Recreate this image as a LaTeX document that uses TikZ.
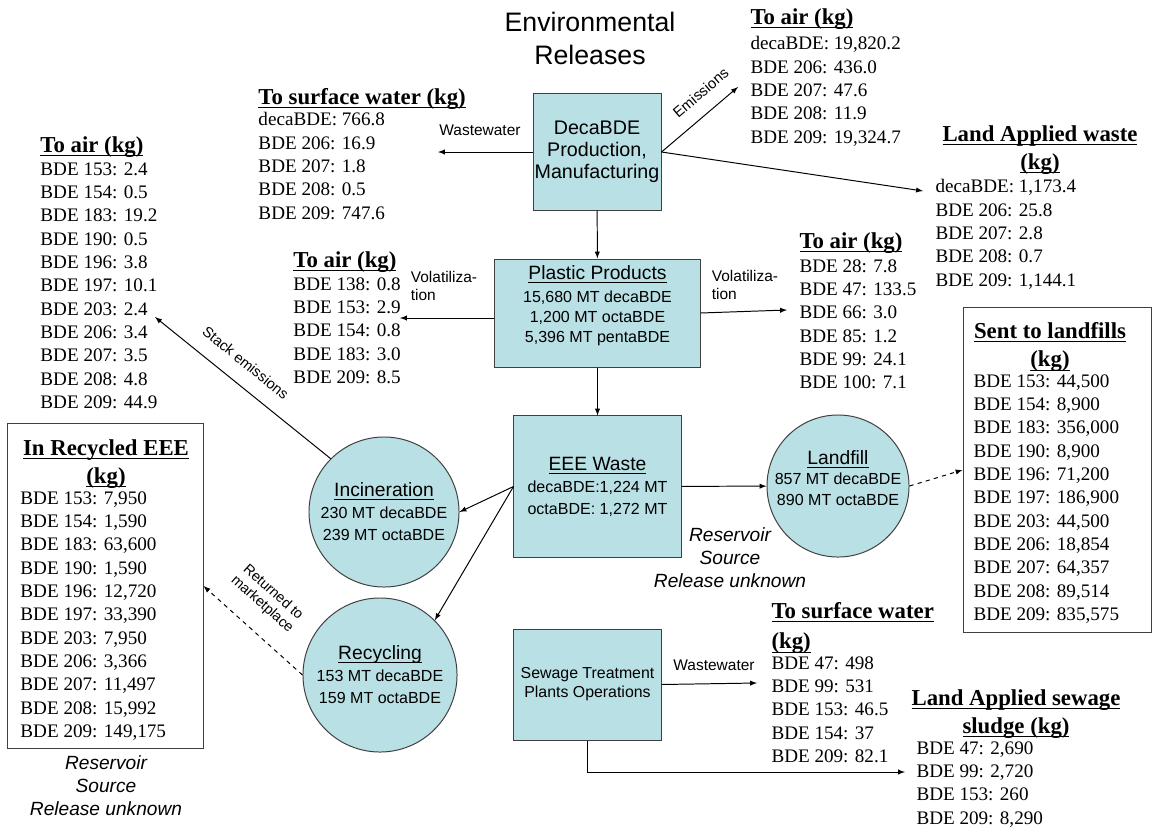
\documentclass[tikz,border=0pt]{standalone}
\usepackage{amsmath}
\usepackage{fontspec}
\setmainfont{Liberation Serif}
\setsansfont{Liberation Sans}
\usepackage{xcolor}
\definecolor{tank}{RGB}{185,224,228}
\newcommand{\uln}[1]{\underline{\smash[b]{#1}}}

\begin{document}
\begin{tikzpicture}[x=0.025cm, y=-0.025cm, line width=0.7pt,
  unit/.style={draw=black!75, fill=tank, inner sep=0pt, align=center, font=\sffamily\fontsize{11.4}{15.6}\selectfont},
  pool/.style={unit, circle},
  lst/.style={anchor=north west, inner sep=0pt, align=left, font=\fontsize{13.6}{16.6}\selectfont},
  hd/.style={inner sep=0pt, font=\bfseries\fontsize{16.2}{20}\selectfont},
  tag/.style={inner sep=1pt, font=\sffamily\fontsize{11}{12.8}\selectfont},
  note/.style={align=center, font=\sffamily\itshape\fontsize{13.6}{16.4}\selectfont}]
  \useasboundingbox (0,0) rectangle (1154,829);

  \node[font=\sffamily\fontsize{19}{23.5}\selectfont, align=center] (title) at (590,38) {Environmental\\Releases};

  % processes
  \node[unit, font=\sffamily\fontsize{14}{15.6}\selectfont, minimum width=3.2cm, minimum height=2.9cm] (deca) at (597,152) {DecaBDE\\Production,\\Manufacturing};
  \node[unit, minimum width=5.125cm, minimum height=2.7cm] (plastic) at (597.5,313) {};
  \node[anchor=north, inner sep=0pt, align=center, font=\sffamily\fontsize{11.4}{14.2}\selectfont] (plastictxt) at (597.5,265)
    {{\fontsize{13.7}{15}\selectfont\uln{Plastic Products}}\\[2pt]15,680 MT decaBDE\\1,200 MT octaBDE\\5,396 MT pentaBDE};
  \node[unit, minimum width=4.175cm, minimum height=3.525cm] (eee) at (597.5,486.5)
    {{\fontsize{13.7}{15}\selectfont\uln{EEE Waste}}\\decaBDE:1,224 MT\\octaBDE: 1,272 MT};
  \node[pool, minimum size=3.75cm] (incin) at (384,512)
    {{\fontsize{13.7}{15}\selectfont\uln{Incineration}}\\230 MT decaBDE\\239 MT octaBDE};
  \node[pool, minimum size=3.85cm] (recyc) at (380,675)
    {{\fontsize{13.7}{15}\selectfont\uln{Recycling}}\\153 MT decaBDE\\159 MT octaBDE};
  \node[pool, minimum size=3.55cm] (landfill) at (838,486) {};
  \node[inner sep=0pt, align=center, font=\sffamily\fontsize{11.4}{14.6}\selectfont] (landfilltxt) at (838,478)
    {{\fontsize{13.7}{15}\selectfont\uln{Landfill}}\\857 MT decaBDE\\890 MT octaBDE};
  \node[unit, font=\sffamily\fontsize{11.3}{13.5}\selectfont, minimum width=3.675cm, minimum height=2.775cm] (sewage) at (587.5,684.5)
    {Sewage Treatment\\Plants Operations};

  % framed lists
  \node[draw=black!75, inner sep=0pt, minimum width=4.875cm, minimum height=8.1cm] (recycled) at (105.5,586) {};
  \node[draw=black!75, inner sep=0pt, minimum width=4.7cm, minimum height=8.1cm] (sent) at (1057,470) {};

  % releases
  \node[hd, anchor=base west] (airtophd) at (750,24) {\uln{To air (kg)}};
  \node[lst] (airtop) at (750,36) {decaBDE: 19,820.2\\BDE 206: 436.0\\BDE 207: 47.6\\BDE 208: 11.9\\BDE 209: 19,324.7};
  \node[hd, anchor=north, align=center] (landwastehd) at (1040,125) {\uln{Land Applied waste}\\\uln{(kg)}};
  \node[lst] (landwaste) at (935,179) {decaBDE: 1,173.4\\BDE 206: 25.8\\BDE 207: 2.8\\BDE 208: 0.7\\BDE 209: 1,144.1};
  \node[hd, anchor=base west] (swtophd) at (258,104) {\uln{To surface water (kg)}};
  \node[lst] (swtop) at (258,112) {decaBDE: 766.8\\BDE 206: 16.9\\BDE 207: 1.8\\BDE 208: 0.5\\BDE 209: 747.6};
  \node[hd, anchor=base west] (airlefthd) at (40,152) {\uln{To air (kg)}};
  \node[lst] (airleft) at (40,162) {BDE 153: 2.4\\BDE 154: 0.5\\BDE 183: 19.2\\BDE 190: 0.5\\BDE 196: 3.8\\BDE 197: 10.1\\BDE 203: 2.4\\BDE 206: 3.4\\BDE 207: 3.5\\BDE 208: 4.8\\BDE 209: 44.9};
  \node[hd, anchor=base west] (airmidhd) at (293,267) {\uln{To air (kg)}};
  \node[lst] (airmid) at (293,277) {BDE 138: 0.8\\BDE 153: 2.9\\BDE 154: 0.8\\BDE 183: 3.0\\BDE 209: 8.5};
  \node[hd, anchor=base west] (airrighthd) at (799,248) {\uln{To air (kg)}};
  \node[lst] (airright) at (799,259) {BDE 28: 7.8\\BDE 47: 133.5\\BDE 66: 3.0\\BDE 85: 1.2\\BDE 99: 24.1\\BDE 100: 7.1};
  \node[hd, anchor=north, align=center] (recycledhd) at (106,439) {\uln{In Recycled EEE}\\\uln{(kg)}};
  \node[lst] (recycledlst) at (20,491) {BDE 153: 7,950\\BDE 154: 1,590\\BDE 183: 63,600\\BDE 190: 1,590\\BDE 196: 12,720\\BDE 197: 33,390\\BDE 203: 7,950\\BDE 206: 3,366\\BDE 207: 11,497\\BDE 208: 15,992\\BDE 209: 149,175};
  \node[hd, anchor=north, align=center] (senthd) at (1050,322) {\uln{Sent to landfills}\\\uln{(kg)}};
  \node[lst] (sentlst) at (973,374) {BDE 153: 44,500\\BDE 154: 8,900\\BDE 183: 356,000\\BDE 190: 8,900\\BDE 196: 71,200\\BDE 197: 186,900\\BDE 203: 44,500\\BDE 206: 18,854\\BDE 207: 64,357\\BDE 208: 89,514\\BDE 209: 835,575};
  \node[hd, anchor=north west, align=left] (swlowhd) at (771,602) {\uln{To surface water}\\[1.5pt]\uln{(kg)}};
  \node[lst] (swlow) at (771,656) {BDE 47: 498\\BDE 99: 531\\BDE 153: 46.5\\BDE 154: 37\\BDE 209: 82.1};
  \node[hd, anchor=north, align=center] (sludgehd) at (1016,689) {\uln{Land Applied sewage}\\\uln{sludge (kg)}};
  \node[lst] (sludge) at (916,741) {BDE 47: 2,690\\BDE 99: 2,720\\BDE 153: 260\\BDE 209: 8,290};

  \node[note] (resmid) at (730,558) {Reservoir\\Source\\Release unknown};
  \node[note] (resleft) at (106,786) {Reservoir\\Source\\Release unknown};

  % flow labels
  \node[tag] (ww1) at (480,130) {Wastewater};
  \node[tag, anchor=west, align=left] (vol1) at (409,286) {Volatiliza-\\tion};
  \node[tag, anchor=west, align=left] (vol2) at (710,285) {Volatiliza-\\tion};
  \node[tag] (ww2) at (714,665) {Wastewater};

  \coordinate (swtip) at (438,152);
  \coordinate (airtip) at (738,87);
  \coordinate (landtip) at (923,191);
  \coordinate (voltipl) at (400,318);
  \coordinate (voltipr) at (787,310);
  \coordinate (stacktip) at (155,317);
  \coordinate (sewtip) at (757,683);
  \coordinate (sludgetip) at (905,772);

  \draw[-latex] (deca) -- (swtip);
  \draw[-latex] (deca.east) -- node[tag, sloped, above=9pt, pos=0.68, font=\sffamily\fontsize{10.5}{12}\selectfont] (emis) {Emissions} (airtip);
  \draw[-latex] (deca.east) -- (landtip);
  \draw[-latex] (deca) -- (plastic);
  \draw[-latex] (plastic.west |- voltipl) -- (voltipl);
  \draw[-latex] (plastic.east) -- (voltipr);
  \draw[-latex] (plastic) -- (eee);
  \draw[-latex] (eee.west) -- (incin.east);
  \draw[-latex] (eee.west) -- (recyc.north east);
  \draw[-latex] (eee) -- (landfill);
  \draw[dashed, -latex] (landfill.east) -- (sent.west);
  \draw[-latex] (incin.north west) -- node[tag, sloped, above=10pt, pos=0.56, font=\sffamily\fontsize{10.4}{12}\selectfont] (stack) {Stack emissions} (stacktip);
  \draw[dashed, -latex] (recyc.west) -- node[tag, sloped, above=12pt, pos=0.58, align=center, font=\sffamily\fontsize{10.2}{11.5}\selectfont] (ret) {Returned to\\marketplace} (recycled.east);
  \draw[-latex] (sewage.east) -- (sewtip);
  \draw[-latex] (sewage.south) |- (sludgetip);
\end{tikzpicture}
\end{document}
